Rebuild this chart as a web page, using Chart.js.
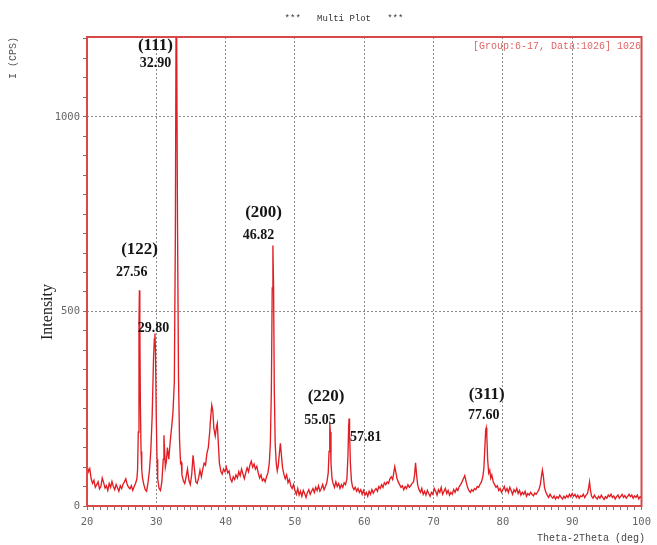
<!DOCTYPE html>
<html>
<head>
<meta charset="utf-8">
<script src="https://cdn.jsdelivr.net/npm/chart.js@4.4.1/dist/chart.umd.min.js"></script>
<style>
  html, body { margin: 0; padding: 0; background: #ffffff; }
  #wrap { width: 657px; height: 545px; }
</style>
</head>
<body>
<div id="wrap"><canvas id="xrd" width="657" height="545"></canvas></div>
<script>
// XRD scan: [2-theta (deg), intensity (CPS)]
const scan = [
  [20.0,105],[20.2,88],[20.4,96],[20.6,70],[20.8,58],[21.0,66],[21.2,48],[21.4,55],[21.6,62],[21.8,44],
  [22.0,50],[22.2,72],[22.4,60],[22.6,46],[22.8,52],[23.0,40],[23.2,58],[23.4,48],[23.6,63],[23.8,50],
  [24.0,42],[24.2,55],[24.4,47],[24.6,38],[24.8,52],[25.0,45],[25.2,56],[25.4,62],[25.6,70],[25.8,55],
  [26.0,48],[26.2,44],[26.4,52],[26.6,40],[26.8,50],[27.0,58],
  [27.2,70],[27.3,95],[27.4,190],[27.5,470],[27.56,554],[27.62,470],[27.7,260],[27.8,140],[27.9,95],
  [28.0,72],[28.2,55],[28.4,42],[28.6,38],[28.8,60],[29.0,90],[29.2,140],[29.4,230],[29.6,380],
  [29.72,430],[29.8,443],[29.88,400],[30.0,220],[30.1,120],[30.2,70],[30.4,45],[30.6,40],[30.8,62],
  [31.0,120],[31.1,182],[31.2,140],[31.3,100],[31.45,115],[31.6,150],[31.8,120],[32.0,165],[32.2,200],
  [32.4,240],[32.6,320],[32.75,700],[32.85,1250],[32.9,1300],[32.95,1250],[33.05,750],[33.2,330],
  [33.35,170],[33.5,110],[33.6,112],[33.7,80],[33.9,65],[34.1,58],[34.3,75],[34.5,95],[34.7,66],
  [34.9,55],[35.1,80],[35.3,130],[35.5,95],[35.7,62],[35.9,58],[36.1,72],[36.3,92],[36.5,75],[36.7,95],
  [36.9,110],[37.1,105],[37.3,135],[37.5,150],[37.7,190],[37.85,230],[38.0,259],[38.15,245],[38.3,200],
  [38.5,180],[38.7,205],[38.8,212],[38.95,160],[39.1,110],[39.3,90],[39.5,82],[39.7,95],[39.9,88],[40.1,100],
  [40.3,85],[40.5,90],[40.7,70],[40.9,62],[41.1,75],[41.3,68],[41.5,80],[41.7,72],[41.9,88],[42.1,78],
  [42.3,95],[42.5,82],[42.7,70],[42.9,85],[43.1,98],[43.3,88],[43.5,105],[43.7,115],[43.9,100],[44.1,108],
  [44.3,95],[44.5,102],[44.7,85],[44.9,72],[45.1,80],[45.3,65],[45.5,70],[45.7,62],[45.9,75],[46.1,85],
  [46.3,110],[46.45,160],[46.6,300],[46.72,560],[46.82,669],[46.92,560],[47.02,300],[47.15,160],[47.3,110],
  [47.45,90],[47.6,105],[47.75,135],[47.9,161],[48.05,130],[48.2,100],[48.4,82],[48.6,70],[48.8,80],
  [49.0,60],[49.2,68],[49.4,52],[49.6,45],[49.8,55],[50.0,40],
  [50.2,30],[50.4,45],[50.6,28],[50.8,38],[51.0,25],[51.2,40],[51.4,32],[51.6,22],[51.8,35],[52.0,42],
  [52.2,30],[52.4,38],[52.6,45],[52.8,35],[53.0,48],[53.2,40],[53.4,52],[53.6,38],[53.8,45],[54.0,55],
  [54.2,42],[54.4,50],[54.6,60],[54.8,85],[54.92,140],[55.0,200],[55.05,214],[55.1,190],[55.2,110],
  [55.35,70],[55.5,58],[55.7,48],[55.9,62],[56.1,50],[56.3,58],[56.5,45],[56.7,55],[56.9,48],[57.1,60],
  [57.3,55],[57.5,70],[57.65,130],[57.75,205],[57.81,225],[57.88,190],[58.0,110],[58.15,65],[58.3,50],
  [58.5,42],[58.7,48],[58.9,38],[59.1,45],[59.3,35],[59.5,42],[59.7,30],[59.9,40],
  [60.1,28],[60.3,35],[60.5,25],[60.7,38],[60.9,30],[61.1,42],[61.3,33],[61.5,40],[61.7,45],[61.9,38],
  [62.1,50],[62.3,45],[62.5,55],[62.7,48],[62.9,60],[63.1,55],[63.3,62],[63.5,58],[63.7,70],[63.9,75],
  [64.1,68],[64.25,85],[64.4,101],[64.55,88],[64.7,72],[64.9,62],[65.1,55],[65.3,48],[65.5,52],[65.7,42],
  [65.9,50],[66.1,45],[66.3,55],[66.5,48],[66.7,52],[66.9,58],[67.1,62],[67.25,78],[67.4,111],[67.55,80],
  [67.7,55],[67.9,42],[68.1,35],[68.3,45],[68.5,30],[68.7,38],[68.9,28],[69.1,40],[69.3,32],[69.5,25],
  [69.7,35],[69.9,30],
  [70.1,45],[70.3,38],[70.5,28],[70.7,42],[70.9,35],[71.1,48],[71.3,30],[71.5,38],[71.7,45],[71.9,32],
  [72.1,40],[72.3,28],[72.5,35],[72.7,30],[72.9,42],[73.1,35],[73.3,45],[73.5,40],[73.7,50],[73.9,55],
  [74.1,62],[74.3,70],[74.5,78],[74.7,62],[74.9,48],[75.1,40],[75.3,35],[75.5,42],[75.7,38],[75.9,45],
  [76.1,42],[76.3,50],[76.5,48],[76.7,56],[76.9,62],[77.1,75],[77.25,95],[77.4,150],[77.52,195],[77.6,201],
  [77.68,180],[77.8,120],[77.95,85],[78.1,92],[78.25,72],[78.4,80],[78.6,62],[78.8,55],[79.0,48],[79.2,52],
  [79.4,40],[79.6,45],[79.8,35],
  [80.0,42],[80.2,50],[80.4,38],[80.6,45],[80.8,35],[81.0,48],[81.2,40],[81.4,30],[81.6,42],[81.8,36],
  [82.0,45],[82.2,32],[82.4,40],[82.6,28],[82.8,35],[83.0,30],[83.2,38],[83.4,25],[83.6,32],[83.8,28],
  [84.0,35],[84.2,30],[84.4,26],[84.6,33],[84.8,30],[85.0,36],[85.2,42],[85.4,55],[85.55,75],[85.7,92],
  [85.85,75],[86.0,48],[86.2,35],[86.4,28],[86.6,22],[86.8,30],[87.0,24],[87.2,20],[87.4,26],[87.6,18],
  [87.8,24],[88.0,20],[88.2,28],[88.4,22],[88.6,18],[88.8,25],[89.0,20],[89.2,27],[89.4,22],[89.6,30],
  [89.8,24],[90.0,32],[90.2,25],[90.4,30],[90.6,22],[90.8,28],[91.0,20],[91.2,26],[91.4,24],[91.6,30],
  [91.8,22],[92.0,28],[92.2,32],[92.35,45],[92.5,62],[92.65,38],[92.8,25],[93.0,20],[93.2,28],[93.4,22],
  [93.6,18],[93.8,25],[94.0,20],[94.2,28],[94.4,22],[94.6,17],[94.8,24],[95.0,20],[95.2,28],[95.4,24],
  [95.6,30],[95.8,22],[96.0,26],[96.2,18],[96.4,24],[96.6,28],[96.8,20],[97.0,25],[97.2,30],[97.4,22],
  [97.6,27],[97.8,20],[98.0,25],[98.2,30],[98.4,24],[98.6,28],[98.8,20],[99.0,26],[99.2,22],[99.4,28],
  [99.6,18],[99.8,24],[100.0,20]
];

// Indexed reflections: peak position (deg) and Miller indices
const peakPositions = [27.56, 29.80, 32.90, 46.82, 55.05, 57.81, 77.60];
const hklIndices = ['(122)', '(111)', '(200)', '(220)', '(311)'];

// Axis ticks
const xRange = [20, 100];
const yRange = [0, 1205];
const xLabelStep = 10;
const yLabelStep = 500;

// Where each annotation sits, in data units [deg, CPS]
const valueLabelAt = [[26.44, 601], [29.59, 457], [29.87, 1138], [44.76, 696], [53.63, 221], [60.21, 177], [77.24, 234]];
const hklLabelAt = [[27.58, 658], [29.87, 1182], [45.47, 755], [54.49, 280], [77.67, 285]];

const FRAME_RED = '#d84a4a';
const TRACE_RED = 'rgb(226,30,36)';
const GRID_GREY = '#8c8c8c';

const decor = {
  id: 'decor',
  afterDatasetsDraw(chart) {
    const { ctx, chartArea: a, scales: { x, y } } = chart;
    ctx.save();
    // plot frame
    ctx.strokeStyle = FRAME_RED;
    ctx.lineWidth = 2;
    ctx.strokeRect(a.left, a.top, a.right - a.left, a.bottom - a.top);

    // peak annotations
    ctx.fillStyle = '#151515';
    ctx.textAlign = 'center';
    ctx.textBaseline = 'middle';
    ctx.font = 'bold 14px "Liberation Serif"';
    peakPositions.forEach((p, i) => {
      const [lx, ly] = valueLabelAt[i];
      ctx.fillText(p.toFixed(2), x.getPixelForValue(lx), y.getPixelForValue(ly));
    });
    ctx.font = 'bold 17px "Liberation Serif"';
    hklIndices.forEach((t, i) => {
      const [lx, ly] = hklLabelAt[i];
      ctx.fillText(t, x.getPixelForValue(lx), y.getPixelForValue(ly));
    });
    ctx.restore();
  },
  afterDraw(chart) {
    const { ctx } = chart;
    ctx.save();
    ctx.textBaseline = 'middle';
    // header
    ctx.fillStyle = '#333333';
    ctx.font = '9px "Liberation Mono"';
    ctx.textAlign = 'center';
    ctx.fillText('***   Multi Plot   ***', 344, 19);
    // data set tag
    ctx.fillStyle = '#e06666';
    ctx.font = '10px "Liberation Mono"';
    ctx.textAlign = 'right';
    ctx.fillText('[Group:6-17, Data:1026] 1026', 641, 46);
    // x axis title
    ctx.fillStyle = '#444444';
    ctx.fillText('Theta-2Theta (deg)', 645, 538);
    // y axis titles
    ctx.save();
    ctx.translate(13, 58);
    ctx.rotate(-Math.PI / 2);
    ctx.textAlign = 'center';
    ctx.fillStyle = '#555555';
    ctx.font = '10px "Liberation Mono"';
    ctx.fillText('I (CPS)', 0, 0);
    ctx.restore();
    ctx.save();
    ctx.translate(48, 312);
    ctx.rotate(-Math.PI / 2);
    ctx.textAlign = 'center';
    ctx.fillStyle = '#222222';
    ctx.font = '16px "Liberation Serif"';
    ctx.fillText('Intensity', 0, 0);
    ctx.restore();
    ctx.restore();
  }
};

new Chart(document.getElementById('xrd'), {
  type: 'line',
  data: {
    datasets: [{
      data: scan.map(([a, c]) => ({ x: a, y: c })),
      borderColor: TRACE_RED,
      borderWidth: 1.35,
      pointRadius: 0,
      tension: 0,
      fill: false
    }]
  },
  options: {
    responsive: false,
    animation: false,
    devicePixelRatio: 1,
    layout: { padding: { top: 37, right: 11, left: 0, bottom: 0 } },
    plugins: { legend: { display: false }, tooltip: { enabled: false }, title: { display: false } },
    scales: {
      x: {
        type: 'linear',
        min: xRange[0],
        max: xRange[1],
        afterFit(s) { s.height = 39; },
        border: { display: false, dash: [2, 2] },
        grid: {
          color: c => (c.tick && c.tick.value % xLabelStep === 0 && c.tick.value > xRange[0] && c.tick.value < xRange[1]) ? GRID_GREY : 'rgba(0,0,0,0)',
          tickColor: '#777777',
          tickLength: 4,
          lineWidth: 1
        },
        ticks: {
          stepSize: 1,
          maxTicksLimit: 200,
          autoSkip: false,
          maxRotation: 0,
          padding: 6,
          color: '#666666',
          font: { family: 'DejaVu Sans Mono', size: 10.5 },
          callback: v => (v % xLabelStep === 0 ? String(v) : '')
        }
      },
      y: {
        min: yRange[0],
        max: yRange[1],
        afterFit(s) { s.width = 87; },
        border: { display: false, dash: [2, 2] },
        grid: {
          color: c => (c.tick && c.tick.value % yLabelStep === 0 && c.tick.value > 0) ? GRID_GREY : 'rgba(0,0,0,0)',
          tickColor: '#777777',
          tickLength: 4,
          lineWidth: 1
        },
        ticks: {
          stepSize: 50,
          includeBounds: false,
          maxTicksLimit: 200,
          autoSkip: false,
          padding: 3,
          color: '#666666',
          font: { family: 'DejaVu Sans Mono', size: 10.5 },
          callback: v => (v % yLabelStep === 0 ? String(v) : '')
        }
      }
    }
  },
  plugins: [decor]
});
</script>
</body>
</html>
